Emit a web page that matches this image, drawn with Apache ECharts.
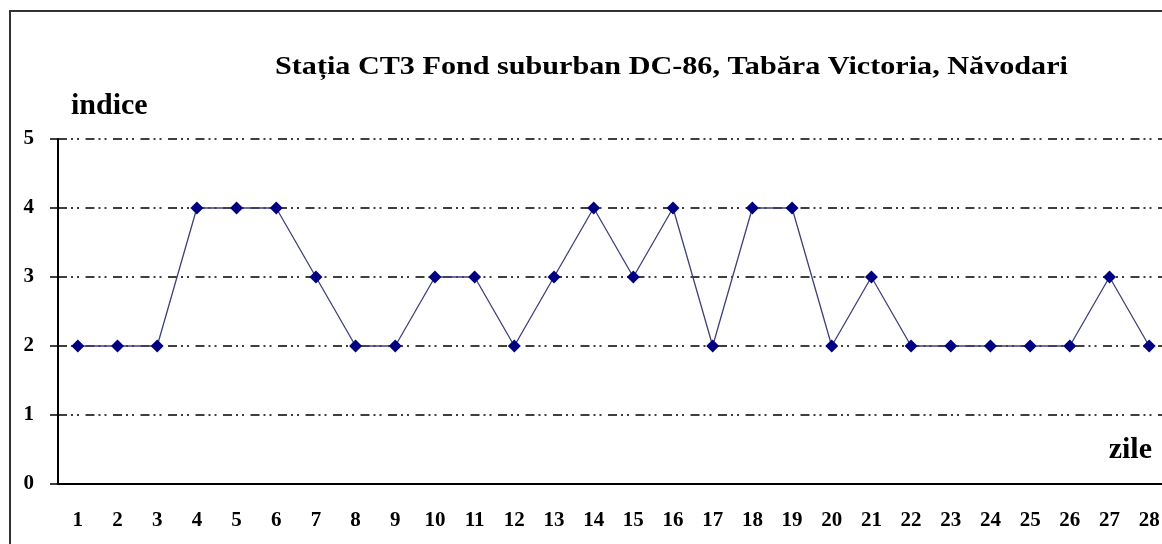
<!DOCTYPE html>
<html>
<head>
<meta charset="utf-8">
<title>Statia CT3</title>
<script src="https://cdn.jsdelivr.net/npm/echarts@6/dist/echarts.min.js"></script>
<style>
	html, body { margin: 0; padding: 0; background: #fff; overflow: hidden; }
	#chart { width: 1180px; height: 544px; }
</style>
</head>
<body>
<div id="chart"></div>
<script>
var titlu = 'Stația CT3 Fond suburban DC-86, Tabăra Victoria, Năvodari';
var zile = ['1','2','3','4','5','6','7','8','9','10','11','12','13','14','15','16','17','18','19','20','21','22','23','24','25','26','27','28'];
var indice = [2,2,2,4,4,4,3,2,2,3,3,2,3,4,3,4,2,4,4,2,3,2,2,2,2,2,3,2];

var serif = '"Liberation Serif", "DejaVu Serif", serif';
// linie - punct - punct, ca in Excel
var gridDash = [9, 4, 2, 4, 2, 6.5];

var myChart = echarts.init(document.getElementById('chart'));
var option = {
	backgroundColor: '#fff',
	animation: false,
	graphic: [{
		type: 'rect',
		shape: { x: 10, y: 11, width: 1200, height: 600 },
		style: { fill: 'none', stroke: '#333', lineWidth: 2 },
		silent: true
	}, {
		// titlul, putin latit pe orizontala
		type: 'text',
		x: 275,
		y: 67,
		scaleX: 1.16,
		style: {
			text: titlu,
			fontFamily: serif, fontWeight: 'bold', fontSize: 26, fill: '#000',
			verticalAlign: 'middle', align: 'left'
		},
		silent: true
	}],
	grid: { left: 58, right: 11, top: 139, bottom: 60 },
	xAxis: {
		type: 'category',
		data: zile,
		name: 'zile',
		nameLocation: 'end',
		nameGap: -17,
		nameTextStyle: {
			fontFamily: serif, fontWeight: 'bold', fontSize: 30, color: '#000',
			align: 'right', verticalAlign: 'bottom', padding: [0, 0, 19, 0]
		},
		axisLine: { lineStyle: { color: '#000', width: 2 } },
		axisTick: { length: 7, lineStyle: { color: '#000', width: 1.5 } },
		axisLabel: { margin: 26, fontFamily: serif, fontWeight: 'bold', fontSize: 21, color: '#000' },
		splitLine: { show: false }
	},
	yAxis: {
		type: 'value',
		min: 0,
		max: 5,
		interval: 1,
		name: 'indice',
		nameLocation: 'end',
		nameGap: 33,
		nameTextStyle: {
			fontFamily: serif, fontWeight: 'bold', fontSize: 30, color: '#000',
			align: 'left', verticalAlign: 'middle', padding: [0, 0, 0, 13]
		},
		axisLine: { show: true, lineStyle: { color: '#000', width: 2 } },
		axisTick: { show: true, length: 8, lineStyle: { color: '#000', width: 1.5 } },
		axisLabel: { margin: 24, fontFamily: serif, fontWeight: 'bold', fontSize: 21, color: '#000' },
		splitLine: { show: true, lineStyle: { color: '#000', width: 1.5, type: gridDash } }
	},
	series: [{
		name: 'indice',
		type: 'line',
		data: indice,
		symbol: 'diamond',
		symbolSize: 13,
		itemStyle: { color: '#000080' },
		lineStyle: { color: '#40407a', width: 1.3 }
	}]
};
myChart.setOption(option);
</script>
</body>
</html>
